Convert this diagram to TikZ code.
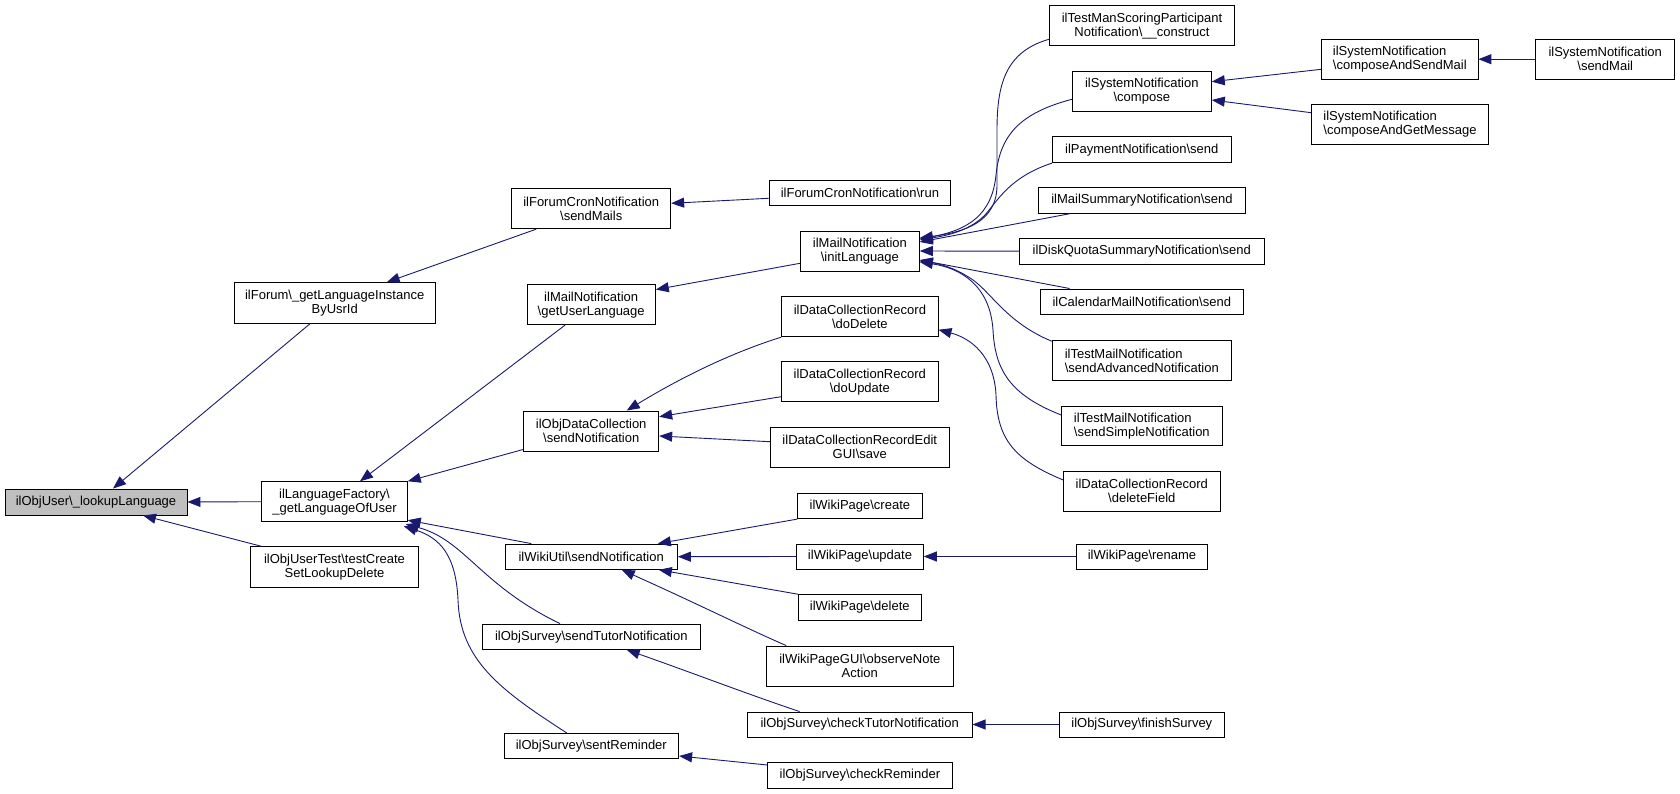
\documentclass[tikz,border=0pt]{standalone}
\usepackage{fontspec}
\setmainfont{Liberation Sans}
\usetikzlibrary{arrows.meta}
\definecolor{edgeblue}{HTML}{191970}
\newcommand\bsl{\textbackslash}
\tikzset{
  box/.style={draw=black, line width=0.9pt, fill=white, inner sep=0pt, align=center,
              font=\fontsize{13}{14}\selectfont},
  lbox/.style={box, align=left},
  arr/.style={draw=edgeblue, line width=0.9pt, -{Triangle[length=13pt,width=10pt]}}
}
\begin{document}
\begin{tikzpicture}[x=1pt,y=-1pt]
\useasboundingbox (0,0) rectangle (1680,794);
% column 1
\node[box, fill=gray!50, minimum width=182pt, minimum height=26pt] (lookup) at (96,502) {ilObjUser\bsl\_lookupLanguage};
% column 2
\node[box, minimum width=200.7pt, minimum height=40.6pt] (forum) at (334.7,303) {ilForum\bsl\_getLanguageInstance\\ByUsrId};
\node[box, minimum width=145.6pt, minimum height=40pt] (lf) at (334.5,501.7) {ilLanguageFactory\bsl\\\_getLanguageOfUser};
\node[box, minimum width=167.6pt, minimum height=40.6pt] (out) at (334.5,567) {ilObjUserTest\bsl testCreate\\SetLookupDelete};
% column 3
\node[box, minimum width=159pt, minimum height=40.4pt] (smails) at (591.2,208.5) {ilForumCronNotification\\\bsl sendMails};
\node[box, minimum width=128.3pt, minimum height=40pt] (gul) at (591.2,304.7) {ilMailNotification\\\bsl getUserLanguage};
\node[box, minimum width=135pt, minimum height=40pt] (odc) at (591.2,431) {ilObjDataCollection\\\bsl sendNotification};
\node[box, minimum width=172.3pt, minimum height=25.3pt] (wu) at (591.2,556.7) {ilWikiUtil\bsl sendNotification};
\node[box, minimum width=217.3pt, minimum height=25.3pt] (stn) at (591.3,636.7) {ilObjSurvey\bsl sendTutorNotification};
\node[box, minimum width=174.7pt, minimum height=25.3pt] (sr) at (591.3,746) {ilObjSurvey\bsl sentReminder};
% column 4
\node[box, minimum width=181.7pt, minimum height=25pt] (frun) at (859.9,192.5) {ilForumCronNotification\bsl run};
\node[box, minimum width=118.8pt, minimum height=40pt] (init) at (859.9,251) {ilMailNotification\\\bsl initLanguage};
\node[box, minimum width=156.3pt, minimum height=40pt] (dd) at (859.9,316.7) {ilDataCollectionRecord\\\bsl doDelete};
\node[box, minimum width=156.5pt, minimum height=40pt] (du) at (859.8,381.7) {ilDataCollectionRecord\\\bsl doUpdate};
\node[box, minimum width=179pt, minimum height=40pt] (es) at (859.8,447) {ilDataCollectionRecordEdit\\GUI\bsl save};
\node[box, minimum width=124.3pt, minimum height=25.7pt] (wc) at (859.9,505.8) {ilWikiPage\bsl create};
\node[box, minimum width=126.6pt, minimum height=25pt] (wup) at (860,556.5) {ilWikiPage\bsl update};
\node[box, minimum width=123pt, minimum height=25.3pt] (wd) at (859.8,607.3) {ilWikiPage\bsl delete};
\node[box, minimum width=187pt, minimum height=40pt] (obs) at (859.8,666) {ilWikiPageGUI\bsl observeNote\\Action};
\node[box, minimum width=224.7pt, minimum height=25pt] (ctn) at (859.7,724.5) {ilObjSurvey\bsl checkTutorNotification};
\node[box, minimum width=184.3pt, minimum height=25.6pt] (cr) at (859.9,775.5) {ilObjSurvey\bsl checkReminder};
% column 5
\node[box, minimum width=185.4pt, minimum height=40pt] (tm) at (1142,25.7) {ilTestManScoringParticipant\\Notification\bsl\_\_construct};
\node[box, minimum width=139pt, minimum height=40pt] (comp) at (1141.8,91) {ilSystemNotification\\\bsl compose};
\node[box, minimum width=179pt, minimum height=26pt] (pay) at (1141.8,149.7) {ilPaymentNotification\bsl send};
\node[box, minimum width=207.4pt, minimum height=25.6pt] (msum) at (1142,200.5) {ilMailSummaryNotification\bsl send};
\node[box, minimum width=245pt, minimum height=25.7pt] (dq) at (1141.8,251.2) {ilDiskQuotaSummaryNotification\bsl send};
\node[box, minimum width=203pt, minimum height=25.7pt] (cal) at (1141.8,301.8) {ilCalendarMailNotification\bsl send};
\node[lbox, minimum width=179pt, minimum height=40pt] (adv) at (1141.8,360.7) {ilTestMailNotification\\\bsl sendAdvancedNotification};
\node[lbox, minimum width=160.3pt, minimum height=39.7pt] (simp) at (1141.8,425.8) {ilTestMailNotification\\\bsl sendSimpleNotification};
\node[box, minimum width=156.3pt, minimum height=39.7pt] (dfield) at (1141.8,491.2) {ilDataCollectionRecord\\\bsl deleteField};
\node[box, minimum width=130.6pt, minimum height=25pt] (ren) at (1142,556.5) {ilWikiPage\bsl rename};
\node[box, minimum width=165.7pt, minimum height=25pt] (fin) at (1141.8,724.5) {ilObjSurvey\bsl finishSurvey};
% column 6 / 7
\node[lbox, minimum width=156.3pt, minimum height=40.3pt] (casm) at (1399.8,59.2) {ilSystemNotification\\\bsl composeAndSendMail};
\node[lbox, minimum width=176.6pt, minimum height=39.6pt] (cagm) at (1400,124.5) {ilSystemNotification\\\bsl composeAndGetMessage};
\node[box, minimum width=139pt, minimum height=40.3pt] (smail) at (1605.2,59.2) {ilSystemNotification\\\bsl sendMail};

% edges into lookup
\draw[arr] ([shift={(-24.7,0)}]forum.south) -- ([shift={(17,0)}]lookup.north);
\draw[arr] (lf.west) -- (lookup.east);
\draw[arr] ([shift={(11,0)}]out.north west) -- ([shift={(47,0)}]lookup.south);
% into forum
\draw[arr] ([shift={(25,0)}]smails.south west) -- ([shift={(52,0)}]forum.north);
\draw[arr] ([shift={(0,5.8)}]frun.west) -- ([shift={(0,-5.2)}]smails.east);
% into language factory
\draw[arr] ([shift={(-26.2,0)}]gul.south) -- ([shift={(25.5,0)}]lf.north);
\draw[arr] ([shift={(0,-2)}]odc.south west) -- (lf.north east);
\draw[arr] ([shift={(26.7,0)}]wu.north west) -- ([shift={(0,-2)}]lf.south east);
\draw[arr] ([shift={(-31.3,0)}]stn.north) .. controls (480,585) and (465,540) .. ([shift={(-2,2)}]lf.south east);
\draw[arr] ([shift={(-24.6,0)}]sr.north) .. controls (500,690) and (460,660) .. (458,600) .. controls (456,555) and (440,538) .. ([shift={(-4,4)}]lf.south east);
% into column 3
\draw[arr] ([shift={(0,12.3)}]init.west) -- ([shift={(0,5.3)}]gul.north east);
\draw[arr] (dd.south west) .. controls (740,350) and (690,372) .. ([shift={(35.5,0)}]odc.north);
\draw[arr] ([shift={(0,15)}]du.west) -- ([shift={(0,-14.3)}]odc.east);
\draw[arr] ([shift={(0,-5.3)}]es.west) -- ([shift={(0,5)}]odc.east);
\draw[arr] (wc.south west) -- ([shift={(-20,0)}]wu.north east);
\draw[arr] (wup.west) -- (wu.east);
\draw[arr] (wd.north west) -- ([shift={(-19,0)}]wu.south east);
\draw[arr] ([shift={(20.4,0)}]obs.north west) .. controls (750,630) and (700,605) .. ([shift={(30.5,0)}]wu.south);
\draw[arr] ([shift={(52.7,0)}]ctn.north west) .. controls (750,695) and (690,672) .. ([shift={(35.4,0)}]stn.south);
\draw[arr] ([shift={(0,-10.5)}]cr.west) -- ([shift={(0,10)}]sr.east);
% into column 4
\draw[arr] (ren.west) -- (wup.east);
\draw[arr] (fin.west) -- (ctn.east);
\draw[arr] ([shift={(0,13.6)}]tm.west) .. controls (1005,52) and (997,85) .. (997,130) -- (997,185) .. controls (997,222) and (965,232) .. ([shift={(0,-13)}]init.east);
\draw[arr] ([shift={(0,8.3)}]comp.west) .. controls (1020,113) and (1000,135) .. (996,175) .. controls (992,215) and (968,230) .. ([shift={(0,-12)}]init.east);
\draw[arr] (pay.south west) .. controls (1010,177) and (998,200) .. (985,215) .. controls (970,230) and (950,235) .. ([shift={(0,-11)}]init.east);
\draw[arr] ([shift={(31.7,0)}]msum.south west) -- ([shift={(0,-9)}]init.east);
\draw[arr] (dq.west) -- (init.east);
\draw[arr] ([shift={(29.7,0)}]cal.north west) -- ([shift={(0,9)}]init.east);
\draw[arr] ([shift={(0,1)}]adv.north west) .. controls (1005,322) and (990,290) .. (970,278) .. controls (955,268) and (940,264) .. ([shift={(0,10)}]init.east);
\draw[arr] ([shift={(0,-10.8)}]simp.west) .. controls (1010,395) and (995,370) .. (993,330) .. controls (990,285) and (960,268) .. ([shift={(0,11)}]init.east);
\draw[arr] ([shift={(0,-11.2)}]dfield.west) .. controls (1015,460) and (997,440) .. (996,395) .. controls (994,355) and (970,338) .. ([shift={(0,-7.4)}]dd.south east);
% into compose
\draw[arr] ([shift={(0,10.1)}]casm.west) -- ([shift={(0,-9.3)}]comp.east);
\draw[arr] ([shift={(0,-11.8)}]cagm.west) -- ([shift={(0,9)}]comp.east);
\draw[arr] (smail.west) -- (casm.east);
\end{tikzpicture}
\end{document}
